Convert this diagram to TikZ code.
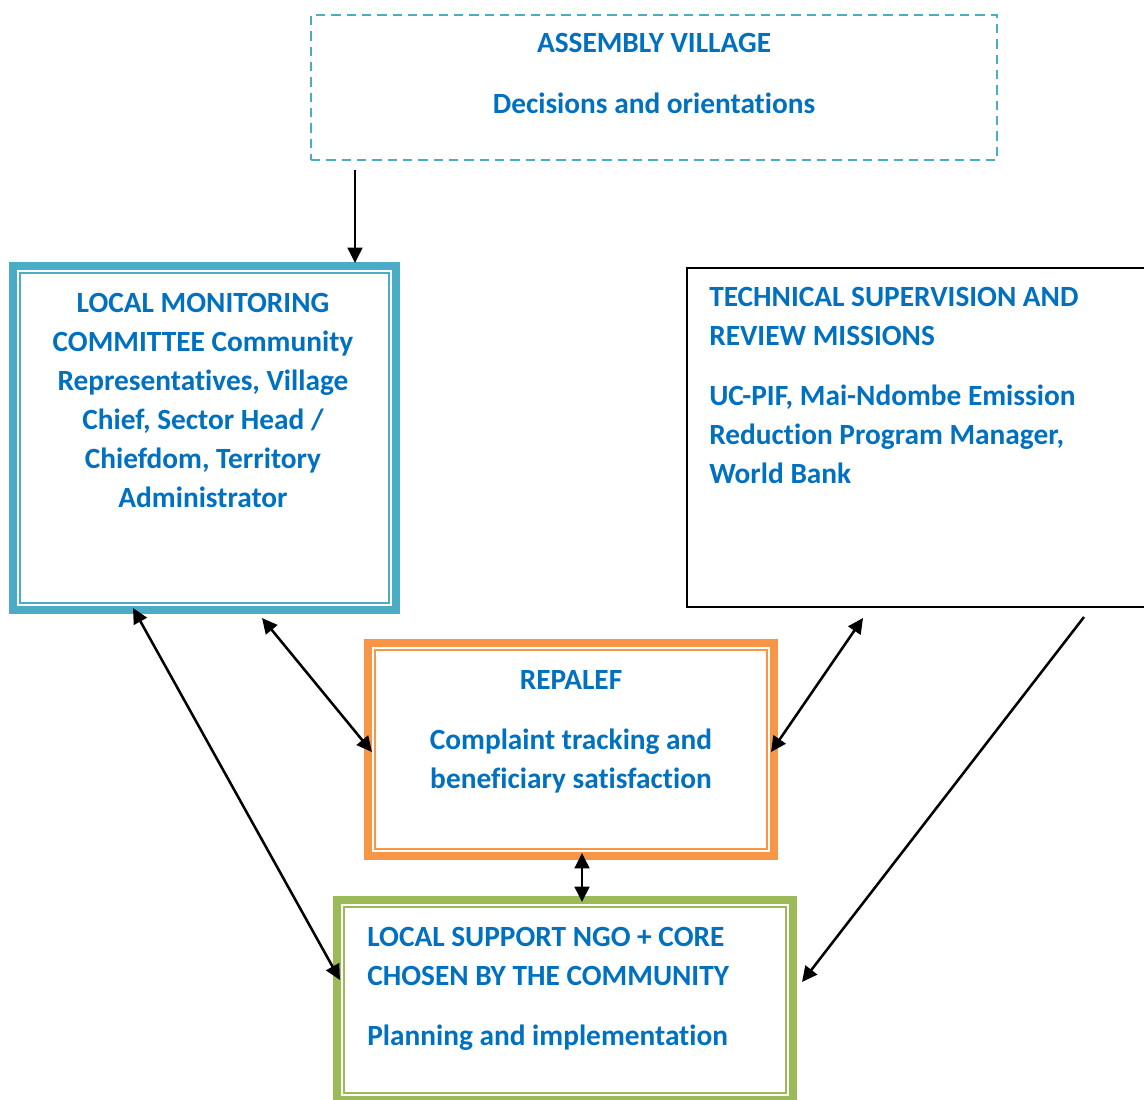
\documentclass[tikz,border=0pt]{standalone}
\usepackage{fontspec}
\setmainfont{Carlito}[Ligatures={NoCommon}]
\usetikzlibrary{arrows.meta,fit,calc}
\definecolor{txtblue}{HTML}{0070C0}
\definecolor{bdblue}{HTML}{4BACC6}
\definecolor{bdorange}{HTML}{F79646}
\definecolor{bdgreen}{HTML}{9BBB59}
\begin{document}
\begin{tikzpicture}[x=0.75pt,y=-0.75pt,
  boxfit/.style={inner sep=0pt, outer sep=0pt, draw},
  thickbox/.style={boxfit, line width=6pt},
  innerline/.style={line width=1.5pt},
  lbl/.style={inner sep=0pt, text=txtblue, font=\fontsize{22pt}{29.25pt}\selectfont\bfseries},
  conn/.style={line width=1.9pt, -{Triangle[length=11.5pt,width=11pt]}},
  conn2/.style={line width=1.9pt, {Triangle[length=11.5pt,width=11pt]}-{Triangle[length=11.5pt,width=11pt]}}
]
\useasboundingbox (0,0) rectangle (1144,1099);
\clip (0,0) rectangle (1144,1099);
\fill[white] (0,0) rectangle (1144,1099);

% boxes
\node[boxfit, draw=bdblue, line width=1.5pt, dash pattern=on 7pt off 4.5pt, fit={(311,15)(997,160)}] (asm) {};
\node[thickbox, draw=bdblue, fit={(13,266)(396,610)}] (lmc) {};
\draw[draw=bdblue, innerline] ($(lmc.north west)+(7,7)$) rectangle ($(lmc.south east)+(-7,-7)$);
\node[boxfit, draw=black, line width=1.5pt, fit={(687,268)(1170,607)}] (tech) {};
\node[thickbox, draw=bdorange, fit={(368,643)(774,855.5)}] (rep) {};
\draw[draw=bdorange, innerline] ($(rep.north west)+(7,7)$) rectangle ($(rep.south east)+(-7,-7)$);
\node[thickbox, draw=bdgreen, fit={(337,899.5)(792.5,1100)}] (ngo) {};
\draw[draw=bdgreen, innerline] ($(ngo.north west)+(7,7)$) rectangle ($(ngo.south east)+(-7,-7)$);

% texts (anchored at the baseline of the last line)
\node[lbl, anchor=base, align=center] (asmt) at (654,113) {ASSEMBLY VILLAGE\\[15.75pt]Decisions and orientations};
\node[lbl, anchor=base, align=center] (lmct) at (203,507.5) {LOCAL MONITORING\\COMMITTEE Community\\Representatives, Village\\Chief, Sector Head /\\Chiefdom, Territory\\Administrator};
\node[lbl, anchor=base west, align=left] (techt) at (709,483) {TECHNICAL SUPERVISION AND\\REVIEW MISSIONS\\[15.75pt]UC-PIF, Mai-Ndombe Emission\\Reduction Program Manager,\\World Bank};
\node[lbl, anchor=base, align=center] (rept) at (571,788) {REPALEF\\[15.75pt]Complaint tracking and\\beneficiary satisfaction};
\node[lbl, anchor=base west, align=left] (ngot) at (367,1045) {LOCAL SUPPORT NGO + CORE\\CHOSEN BY THE COMMUNITY\\[15.75pt]Planning and implementation};

% connectors
\draw[conn] ([shift={(44,10)}]asm.south west) -- ([shift={(342,-3)}]lmc.north west);
\draw[conn2] ([shift={(120,-2)}]lmc.south west) -- ([shift={(3,80.5)}]ngo.north west);
\draw[conn2] ([shift={(249,8)}]lmc.south west) -- ([shift={(4,109)}]rep.north west);
\draw[conn2] ([shift={(176,11)}]tech.south west) -- ([shift={(-3,109)}]rep.north east);
\draw[conn] ([shift={(397,10)}]tech.south west) -- ([shift={(9.5,82.5)}]ngo.north east);
\draw[conn2] ([shift={(214,-2.5)}]rep.south west) -- ([shift={(245,2.5)}]ngo.north west);
\end{tikzpicture}
\end{document}
